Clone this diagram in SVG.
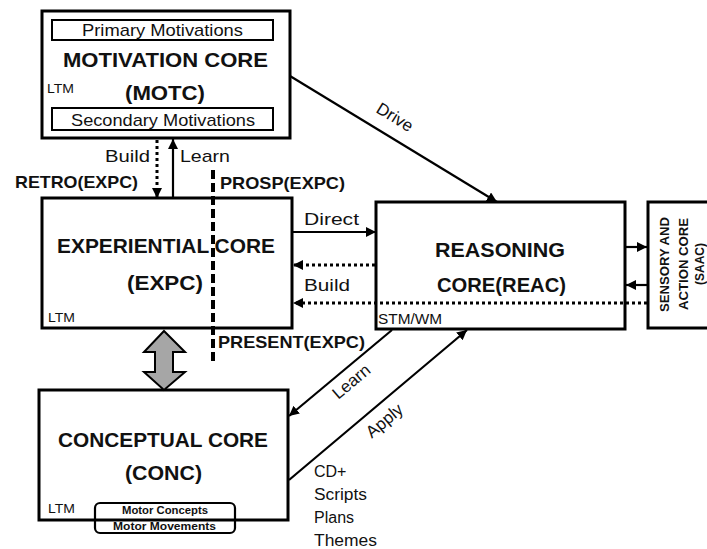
<svg xmlns="http://www.w3.org/2000/svg" width="707" height="549" viewBox="0 0 707 549">
<defs>
<marker id="ah" markerUnits="userSpaceOnUse" markerWidth="12" markerHeight="10" refX="10" refY="5" orient="auto">
<path d="M0,0 L10,5 L0,10 z" fill="#000"/>
</marker>
<style>
.box{fill:#fff;stroke:#000;stroke-width:3}
.inner{fill:#fff;stroke:#000;stroke-width:2}
.t{font-family:"Liberation Sans",Arial,sans-serif;fill:#111}
.b{font-weight:bold}
.c{text-anchor:middle}
.ln{fill:none;stroke:#000;stroke-width:2.2}
.dot{fill:none;stroke:#000;stroke-width:3;stroke-dasharray:3 3}
</style>
</defs>
<rect width="707" height="549" fill="#fff"/>

<g id="motc">
<rect class="box" x="42" y="11" width="248" height="127"/>
<rect class="inner" x="52" y="20" width="221" height="20"/>
<text class="t c" x="162.5" y="36" font-size="17" textLength="161" lengthAdjust="spacingAndGlyphs">Primary Motivations</text>
<text class="t b c" x="165.5" y="67" font-size="21" textLength="205" lengthAdjust="spacingAndGlyphs">MOTIVATION CORE</text>
<text class="t b c" x="165" y="100" font-size="21" textLength="80" lengthAdjust="spacingAndGlyphs">(MOTC)</text>
<text class="t" x="47" y="93" font-size="13" textLength="27" lengthAdjust="spacingAndGlyphs">LTM</text>
<rect class="inner" x="52" y="108" width="221" height="22"/>
<text class="t c" x="163" y="126" font-size="17" textLength="184" lengthAdjust="spacingAndGlyphs">Secondary Motivations</text>
</g>

<g id="expc">
<rect class="box" x="42" y="198" width="250" height="130"/>
<text class="t b" x="57" y="253" font-size="21" textLength="218" lengthAdjust="spacingAndGlyphs">EXPERIENTIAL CORE</text>
<text class="t b c" x="165" y="290" font-size="21" textLength="76" lengthAdjust="spacingAndGlyphs">(EXPC)</text>
<text class="t" x="48" y="322" font-size="13" textLength="27" lengthAdjust="spacingAndGlyphs">LTM</text>
</g>

<g id="reac">
<rect class="box" x="376" y="202" width="249" height="127"/>
<text class="t b c" x="500" y="257" font-size="21" textLength="130" lengthAdjust="spacingAndGlyphs">REASONING</text>
<text class="t b c" x="501.5" y="292" font-size="21" textLength="129" lengthAdjust="spacingAndGlyphs">CORE(REAC)</text>
<text class="t" x="378" y="324" font-size="14" textLength="64" lengthAdjust="spacingAndGlyphs">STM/WM</text>
</g>

<g id="saac">
<rect class="box" x="648" y="202" width="72" height="126"/>
<text class="t b c" transform="translate(669,264.5) rotate(-90)" x="0" y="0" font-size="13" textLength="95" lengthAdjust="spacingAndGlyphs">SENSORY AND</text>
<text class="t b c" transform="translate(688,264) rotate(-90)" x="0" y="0" font-size="13" textLength="92" lengthAdjust="spacingAndGlyphs">ACTION CORE</text>
<text class="t b c" transform="translate(704,264) rotate(-90)" x="0" y="0" font-size="12">(SAAC)</text>
</g>

<g id="conc">
<rect class="box" x="39" y="390" width="249" height="130"/>
<text class="t b c" x="163" y="447" font-size="21" textLength="210" lengthAdjust="spacingAndGlyphs">CONCEPTUAL CORE</text>
<text class="t b c" x="163.5" y="480" font-size="21" textLength="77" lengthAdjust="spacingAndGlyphs">(CONC)</text>
<text class="t" x="48" y="513" font-size="13" textLength="27" lengthAdjust="spacingAndGlyphs">LTM</text>
<rect x="95" y="503" width="140" height="30" rx="5" fill="none" stroke="#000" stroke-width="2.2"/>
<text class="t b c" x="165" y="514" font-size="10.5" textLength="86" lengthAdjust="spacingAndGlyphs">Motor Concepts</text>
<text class="t b c" x="164.5" y="530" font-size="10.5" textLength="103" lengthAdjust="spacingAndGlyphs">Motor Movements</text>
</g>

<g id="annotations">
<text class="t b" x="15" y="188" font-size="17" textLength="123" lengthAdjust="spacingAndGlyphs">RETRO(EXPC)</text>
<text class="t b" x="220" y="189" font-size="17" textLength="125" lengthAdjust="spacingAndGlyphs">PROSP(EXPC)</text>
<text class="t b" x="218" y="348" font-size="17" textLength="147" lengthAdjust="spacingAndGlyphs">PRESENT(EXPC)</text>
<text class="t" x="314" y="477" font-size="16">CD+</text>
<text class="t" x="314" y="500" font-size="16" textLength="53" lengthAdjust="spacingAndGlyphs">Scripts</text>
<text class="t" x="314" y="523" font-size="16">Plans</text>
<text class="t" x="314" y="546" font-size="16" textLength="63" lengthAdjust="spacingAndGlyphs">Themes</text>
</g>

<g id="connectors">
<line class="ln" x1="290" y1="76" x2="497" y2="202" marker-end="url(#ah)"/>
<text class="t c" transform="translate(392,122) rotate(31.5)" font-size="17">Drive</text>
<line class="dot" x1="157" y1="140" x2="157" y2="198" marker-end="url(#ah)"/>
<line class="ln" x1="173" y1="198" x2="173" y2="139" marker-end="url(#ah)"/>
<text class="t" x="105" y="162" font-size="17" textLength="45" lengthAdjust="spacingAndGlyphs">Build</text>
<text class="t" x="180" y="162" font-size="17" textLength="50" lengthAdjust="spacingAndGlyphs">Learn</text>
<line class="ln" x1="293" y1="232" x2="376" y2="232" marker-end="url(#ah)"/>
<text class="t" x="304" y="225" font-size="17" textLength="55" lengthAdjust="spacingAndGlyphs">Direct</text>
<line class="dot" x1="375" y1="265" x2="293" y2="265" marker-end="url(#ah)"/>
<text class="t" x="304" y="291" font-size="17" textLength="46" lengthAdjust="spacingAndGlyphs">Build</text>
<line class="dot" x1="647" y1="303" x2="293" y2="303" marker-end="url(#ah)"/>
<line class="ln" x1="626" y1="247" x2="647" y2="247" marker-end="url(#ah)"/>
<line class="ln" x1="648" y1="285" x2="626" y2="285" marker-end="url(#ah)"/>
<line class="ln" x1="392" y1="330" x2="289" y2="416" marker-end="url(#ah)"/>
<text class="t c" transform="translate(355,386) rotate(-40)" font-size="17">Learn</text>
<line class="ln" x1="289" y1="480" x2="467" y2="330" marker-end="url(#ah)"/>
<text class="t c" transform="translate(388,425) rotate(-40)" font-size="17">Apply</text>
<line x1="213" y1="170" x2="213" y2="362" stroke="#000" stroke-width="4" stroke-dasharray="9 4"/>
<polygon points="164,331 185,352 173,352 173,372 185,372 164,390 144,372 155,372 155,352 144,352" fill="#a6a6a6" stroke="#000" stroke-width="2"/>
</g>
</svg>
